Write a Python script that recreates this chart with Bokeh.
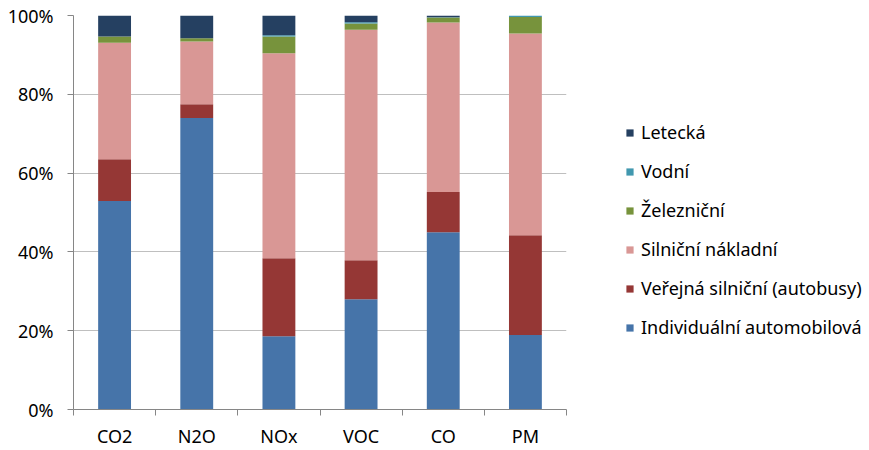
from bokeh.plotting import figure
from bokeh.models import (ColumnDataSource, Range1d, LinearAxis,
                          FixedTicker, Legend, LegendItem, NumeralTickFormatter)
from bokeh.embed import file_html
from bokeh.resources import INLINE

categories = ["CO2", "N2O", "NOx", "VOC", "CO", "PM"]
individualni = [52.9, 74.0, 18.6, 28.0, 45.0, 18.9]
verejna = [10.6, 3.5, 19.8, 9.9, 10.2, 25.3]
silnicni_nakladni = [29.6, 15.9, 52.0, 58.5, 43.0, 51.2]
zeleznicni = [1.6, 0.8, 4.3, 1.6, 1.3, 4.2]
vodni = [0.0, 0.0, 0.3, 0.3, 0.05, 0.4]
letecka = [5.3, 5.8, 5.0, 1.7, 0.45, 0.0]

series_labels = ["Individuální automobilová", "Veřejná silniční (autobusy)",
                 "Silniční nákladní", "Železniční", "Vodní", "Letecká"]
series_values = [individualni, verejna, silnicni_nakladni, zeleznicni, vodni, letecka]
colors = ["#4674A9", "#953735", "#D99795", "#77933C", "#4198AF", "#254061"]

n = len(categories)
centers = [i + 0.5 for i in range(n)]
boundaries = list(range(n + 1))
keys = ["s%d" % i for i in range(len(series_labels))]
data = {"x": centers}
for k, vals in zip(keys, series_values):
    data[k] = [v / 100.0 for v in vals]
source = ColumnDataSource(data)

FONT = "Noto Sans"
FS = "18px"

p = figure(x_range=Range1d(0, n), y_range=Range1d(0, 1),
           frame_width=493, frame_height=394,
           min_border_left=73, min_border_top=15, min_border_bottom=30, min_border_right=300,
           output_backend="svg", toolbar_location=None,
           x_axis_location=None, y_axis_location=None)
p.outline_line_color = None
p.background_fill_color = "white"

renderers = p.vbar_stack(keys, x="x", width=0.4, color=colors, line_color=None, source=source)

# y axis
yax = LinearAxis(ticker=FixedTicker(ticks=[0, 0.2, 0.4, 0.6, 0.8, 1.0]),
                 formatter=NumeralTickFormatter(format="0%"))
yax.axis_line_color = "#868686"
yax.major_tick_line_color = "#868686"
yax.major_tick_out = 6
yax.major_tick_in = 0
yax.minor_tick_line_color = None
yax.major_label_text_font = FONT
yax.major_label_text_font_size = FS
yax.major_label_text_color = "#000000"
yax.major_label_standoff = 14
p.add_layout(yax, "left")

# x axis: labels at category centres, minor ticks at category boundaries
xax = LinearAxis(ticker=FixedTicker(ticks=centers, minor_ticks=boundaries),
                 major_label_overrides={c: lab for c, lab in zip(centers, categories)})
xax.axis_line_color = "#868686"
xax.major_tick_line_color = None
xax.major_tick_out = 0
xax.major_tick_in = 0
xax.minor_tick_line_color = "#868686"
xax.minor_tick_out = 6
xax.minor_tick_in = 0
xax.major_label_text_font = FONT
xax.major_label_text_font_size = FS
xax.major_label_text_color = "#000000"
xax.major_label_standoff = 8
p.add_layout(xax, "below")

p.xgrid.grid_line_color = None
p.ygrid.grid_line_color = "#BFBFBF"
p.ygrid.ticker = FixedTicker(ticks=[0.2, 0.4, 0.6, 0.8, 1.0])

items = [LegendItem(label=lab, renderers=[r]) for lab, r in zip(series_labels, renderers)]
items = items[::-1]
legend = Legend(items=items, location=(59, 70), orientation="vertical")
legend.border_line_color = None
legend.background_fill_alpha = 0
legend.label_text_font = FONT
legend.label_text_font_size = FS
legend.label_text_color = "#000000"
legend.glyph_width = 9
legend.glyph_height = 9
legend.label_height = 24
legend.spacing = 15
legend.padding = 0
legend.margin = 0
legend.label_standoff = 7
p.add_layout(legend, "right")

open("out.html", "w").write(file_html(p, INLINE))
